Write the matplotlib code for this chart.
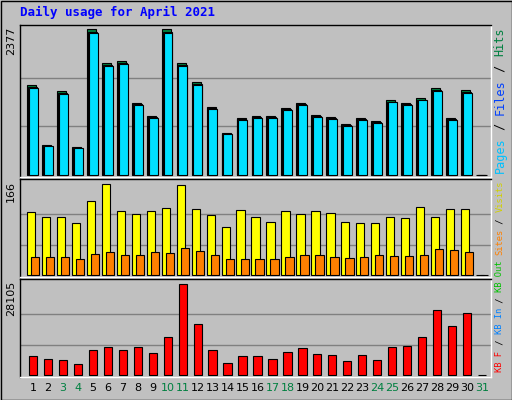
import matplotlib
matplotlib.use("Agg")
import matplotlib.pyplot as plt
import numpy as np

days = list(range(1, 32))
hits = [1458, 489, 1360, 456, 2377, 1824, 1856, 1172, 961, 2377, 1824, 1515, 1107, 684, 928, 961, 961, 1091, 1172, 977, 944, 830, 928, 879, 1221, 1172, 1254, 1417, 928, 1384, 0]
files = [h * 0.98 for h in hits]
pages = [h * 0.97 for h in hits]
visits = [115, 106, 105, 95, 135, 166, 117, 111, 117, 122, 164, 120, 109, 88, 119, 106, 97, 117, 111, 117, 113, 97, 95, 95, 106, 104, 124, 106, 120, 120, 0]
sites = [33, 32, 33, 29, 39, 42, 36, 37, 42, 40, 49, 44, 36, 29, 29, 29, 29, 33, 36, 36, 33, 31, 33, 36, 35, 35, 36, 47, 46, 42, 0]
kbf = [5868, 4941, 4632, 3397, 7721, 8647, 7721, 8647, 6794, 11735, 28105, 15748, 7721, 3706, 5868, 5868, 4941, 7103, 8338, 6485, 6176, 4323, 6176, 4632, 8647, 8956, 11735, 20074, 15131, 19147, 0]
weekend = {3, 4, 10, 11, 17, 18, 24, 25, 31}

W, H = 512, 400
fig = plt.figure(figsize=(5.12, 4.0), dpi=100, facecolor="#C0C0C0")
mono = "DejaVu Sans Mono"
SLOT = 14.97
XL = 1 - 13 / SLOT
XR = 31 + 9 / SLOT

def ax_at(x0, y0, x1, y1):
    a = fig.add_axes([x0 / W, 1 - y1 / H, (x1 - x0) / W, (y1 - y0) / H])
    a.set_facecolor("#C0C0C0")
    a.set_xlim(XL, XR)
    a.set_xticks([]); a.set_yticks([])
    for s in a.spines.values():
        s.set_color("black"); s.set_linewidth(1)
    a.spines["right"].set_color("white"); a.spines["bottom"].set_color("white")
    return a

x = np.array(days)
a1 = ax_at(20, 25, 491, 177)
m = max(hits)
a1.set_ylim(-m * 2 / 146, m * 150 / 146)
for f in (1/3, 2/3):
    a1.axhline(m * f, color="#808080", lw=1, zorder=0)
a1.bar(x - 0.1, hits, width=0.6, color="#008040", edgecolor="black", lw=0.8)
a1.bar(x - 0.04, files, width=0.6, color="#0040FF", edgecolor="black", lw=0.8)
a1.bar(x + 0.02, pages, width=0.6, color="#00E0FF", edgecolor="black", lw=0.8)

a2 = ax_at(20, 179, 491, 277)
m2 = max(visits)
a2.set_ylim(-m2 * 2 / 91, m2 * 96 / 91)
for f in (1/3, 2/3):
    a2.axhline(m2 * f, color="#808080", lw=1, zorder=0)
a2.bar(x - 0.13, visits, width=0.55, color="#FFFF00", edgecolor="black", lw=0.8)
a2.bar(x + 0.14, sites, width=0.55, color="#FF8000", edgecolor="black", lw=0.8)

a3 = ax_at(20, 279, 491, 377)
m3 = max(kbf)
a3.set_ylim(-m3 * 2 / 91, m3 * 96 / 91)
for f in (1/3, 2/3):
    a3.axhline(m3 * f, color="#808080", lw=1, zorder=0)
a3.bar(x, kbf, width=0.55, color="#FF0000", edgecolor="black", lw=0.8)

fig.patches.append(plt.Rectangle((0.5 / W, 0.5 / H), 1 - 1 / W, 1 - 1 / H, transform=fig.transFigure,
                                 fill=False, edgecolor="black", lw=1))

fig.text(20 / W, 1 - 12 / H, "Daily usage for April 2021", color="#0000FF", fontsize=9,
         fontweight="bold", family=mono, va="center", ha="left")
for d in days:
    fig.text((33 + (d - 1) * SLOT) / W, 1 - 388 / H, str(d), fontsize=8,
             color="#008040" if d in weekend else "black", ha="center", va="center", family="DejaVu Sans")

for y, t in [(27, "2377"), (181, "166"), (281, "28105")]:
    fig.text(11 / W, 1 - y / H, t, rotation=90, fontsize=8, ha="center", va="top")

def right(ytop, parts, step, fs):
    y = ytop
    for txt, c in parts:
        fig.text(500 / W, 1 - y / H, txt, rotation=90, fontsize=fs, family=mono, color=c,
                 ha="center", va="top")
        y += step * len(txt)

right(28, [("Hits", "#008040"), (" / ", "black"), ("Files", "#0040FF"), (" / ", "black"), ("Pages", "#00C0FF")], 7.3, 8.5)
right(181, [("Visits", "#D0D000"), (" / ", "black"), ("Sites", "#FF8000"), (" ", "black"), ("KB Out", "#00C000"),
            (" / ", "black"), ("KB In", "#0080FF"), (" / ", "black"), ("KB F", "#FF0000")], 5.3, 6.3)

fig.savefig("out.png", dpi=100, facecolor=fig.get_facecolor())
